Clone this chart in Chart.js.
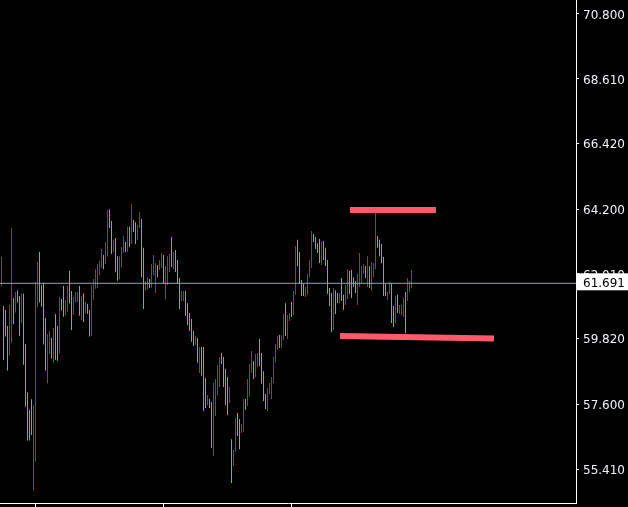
<!DOCTYPE html>
<html><head><meta charset="utf-8">
<script src="https://cdn.jsdelivr.net/npm/chart.js@4/dist/chart.umd.min.js"></script>
<style>html,body{margin:0;padding:0;background:#000;overflow:hidden}canvas{display:block}</style>
</head><body>
<canvas id="c" width="628" height="507"></canvas>
<script>
// bar highs (price)
const highs = [
62.59,60.92,60.79,60.25,60.96,63.56,61.19,61.40,61.46,61.26,
61.35,61.35,59.64,58.01,57.41,57.77,57.57,61.74,62.41,62.75,
61.63,61.71,60.52,59.98,60.08,59.84,60.18,60.65,60.25,61.23,
61.16,61.60,61.13,61.60,62.11,61.43,61.24,61.40,61.40,61.60,
61.26,61.35,61.06,61.00,60.79,61.63,61.84,62.17,62.34,62.45,
62.85,62.65,63.09,64.17,64.20,63.80,63.16,63.22,62.61,62.61,
62.92,63.29,63.09,63.60,63.60,64.37,63.83,63.76,63.66,64.10,
63.87,62.89,61.77,61.90,61.84,62.34,62.65,62.38,62.31,62.48,
62.72,62.65,62.28,62.61,62.68,63.26,62.75,62.82,62.48,61.87,
61.43,61.43,61.43,61.02,60.69,60.48,60.08,59.91,59.84,59.54,
59.54,59.54,58.49,57.91,57.78,57.68,58.32,58.45,58.93,59.20,
59.33,59.20,58.79,58.52,58.18,56.42,56.05,57.14,57.30,57.10,
56.93,57.78,57.78,58.45,58.96,59.40,59.06,59.30,59.33,59.81,
59.33,58.72,57.95,58.15,58.32,58.52,59.20,59.64,59.91,59.94,
59.94,60.65,61.02,60.62,60.69,61.06,61.43,62.95,63.16,62.75,
61.80,61.67,61.57,62.01,62.48,63.46,63.36,63.26,63.05,63.19,
63.09,63.12,62.89,62.48,61.53,61.36,61.53,61.46,61.36,61.36,
61.87,61.30,61.63,62.17,62.11,62.14,61.90,61.77,62.01,62.72,
62.28,62.34,62.28,62.61,62.28,62.41,62.38,64.07,63.29,63.16,
63.02,62.58,61.67,61.40,61.74,61.70,60.92,61.26,61.30,60.96,
60.96,61.19,61.40,61.87,61.77,62.14
];
// bar lows (price)
const lows = [
61.58,59.10,59.89,58.74,59.27,59.68,60.31,60.70,61.04,59.91,
60.36,58.94,57.52,56.37,56.37,56.56,54.68,55.66,60.88,61.04,
60.90,59.62,58.74,58.31,59.30,59.14,59.01,59.10,59.07,59.32,
60.77,60.56,60.61,60.73,61.01,60.11,60.62,61.04,61.07,60.59,
60.45,60.38,60.68,60.65,59.89,59.91,61.13,61.51,61.53,61.97,
62.21,62.17,62.34,62.59,63.56,62.68,62.75,62.07,61.78,61.84,
62.24,62.72,62.75,62.75,62.92,63.02,63.43,63.02,63.16,63.56,
61.90,60.82,61.44,61.49,61.53,61.55,61.96,61.36,61.90,62.14,
62.21,61.67,61.16,61.63,62.07,62.24,62.17,62.07,61.67,60.82,
61.09,61.09,60.59,60.28,60.08,59.71,59.57,59.60,59.00,58.66,
58.56,57.37,57.47,57.57,57.47,56.12,55.85,57.20,57.91,58.18,
58.96,58.18,57.57,57.24,57.64,54.94,55.51,55.99,56.53,56.09,
56.63,56.66,57.41,57.54,57.85,58.66,58.45,58.52,58.86,58.89,
58.29,57.71,57.44,57.37,57.95,57.78,58.32,59.00,59.44,59.50,
59.50,59.77,59.91,59.81,60.42,60.55,60.62,61.30,62.28,61.67,
61.26,61.26,61.23,61.30,61.90,62.21,63.09,62.85,62.72,62.38,
62.31,62.48,62.28,61.33,60.92,60.04,60.11,60.65,61.02,61.02,
61.09,60.79,60.96,61.16,61.33,61.19,61.57,61.36,60.96,61.57,
61.70,62.01,61.87,61.57,61.53,61.46,61.90,62.17,62.89,62.61,
62.38,61.26,61.26,61.13,61.33,60.35,60.21,60.35,60.69,60.65,
60.62,60.55,60.01,61.09,61.40,61.53
];
// 1 = bull bar (green), 0 = bear bar (red)
const ups = [
0,1,1,1,0,0,1,0,1,1,
0,1,1,1,1,1,0,0,0,1,
1,1,1,0,0,1,0,1,1,0,
1,1,0,0,1,1,0,0,0,1,
0,1,0,1,1,0,0,0,0,0,
0,1,0,0,1,1,0,1,1,0,
0,0,1,0,1,0,1,1,0,0,
1,1,0,0,1,0,0,0,1,0,
0,1,0,0,0,1,0,1,1,1,
0,0,1,1,1,1,1,0,1,0,
1,1,1,0,1,1,0,0,0,0,
1,1,1,1,0,1,0,0,1,1,
0,0,1,0,0,0,1,0,0,1,
1,1,1,0,0,0,0,0,0,1,
0,0,1,0,0,1,0,0,1,1,
1,1,0,0,0,0,1,1,1,1,
0,1,1,1,1,1,0,1,1,0,
1,1,0,0,1,1,1,1,0,0,
0,0,1,0,1,0,0,0,1,1,
1,1,1,0,0,1,1,0,1,0,
0,0,1,0,0,0
];
const yTicks = [70.8, 68.61, 66.42, 64.2, 62.01, 59.82, 57.6, 55.41];
const xTicks = [17, 81, 145];
const lastPrice = 61.691;
const topLine = [{x: 174.25, y: 64.17}, {x: 217.25, y: 64.17}];
const bottomLine = [{x: 169.25, y: 59.91}, {x: 246.25, y: 59.82}];
const X_MIN = -0.75, X_MAX = 287.25, Y_MIN = 54.26, Y_MAX = 71.2735;

const UP = '#1ef01e', DOWN = '#f01414', TREND = '#ff5a6a', PRICE = '#98a2b2', TXT = '#eef2f8';

Chart.defaults.font.family = 'DejaVu Sans';
Chart.defaults.font.size = 12;

const barData = highs.map((h, i) => ({x: i, y: [lows[i], h]}));
const barColors = ups.map(u => u ? UP : DOWN);

const priceLabel = {
  id: 'priceLabel',
  afterDraw(chart) {
    const ctx = chart.ctx, ca = chart.chartArea;
    const y = chart.scales.y.getPixelForValue(lastPrice);
    ctx.save();
    ctx.fillStyle = '#ffffff';
    ctx.fillRect(ca.right + 1, y - 10, chart.width - ca.right - 1, 17);
    ctx.fillStyle = '#000000';
    ctx.font = '12px "DejaVu Sans"';
    ctx.textBaseline = 'middle';
    ctx.textAlign = 'left';
    ctx.fillText(lastPrice.toFixed(3), ca.right + 7, y + 0.5);
    ctx.restore();
  }
};

new Chart(document.getElementById('c'), {
  type: 'bar',
  data: {
    datasets: [
      {type: 'line', data: topLine, borderColor: TREND, borderWidth: 6, borderCapStyle: 'butt', pointRadius: 0, order: 0},
      {type: 'line', data: bottomLine, borderColor: TREND, borderWidth: 6, borderCapStyle: 'butt', pointRadius: 0, order: 0},
      {type: 'line', data: [{x: X_MIN, y: lastPrice}, {x: X_MAX, y: lastPrice}], borderColor: PRICE, borderWidth: 1, pointRadius: 0, order: 1},
      {type: 'bar', data: barData, backgroundColor: barColors, borderWidth: 0, barThickness: 1, inflateAmount: 0, order: 2}
    ]
  },
  options: {
    responsive: false,
    devicePixelRatio: 1,
    animation: false,
    events: [],
    layout: {padding: 0},
    plugins: {legend: {display: false}, tooltip: {enabled: false}},
    scales: {
      x: {
        type: 'linear', min: X_MIN, max: X_MAX, position: 'bottom', offset: false,
        afterBuildTicks: s => { s.ticks = xTicks.map(v => ({value: v})); },
        afterFit: s => { s.height = 4; s.paddingLeft = 0; s.paddingRight = 0; },
        ticks: {display: false},
        grid: {offset: false, drawOnChartArea: false, drawTicks: true, tickLength: 4, tickColor: '#ffffff'},
        border: {display: true, color: '#ffffff', width: 1}
      },
      y: {
        type: 'linear', min: Y_MIN, max: Y_MAX, position: 'right', beginAtZero: false,
        afterBuildTicks: s => { s.ticks = yTicks.map(v => ({value: v})); },
        afterFit: s => { s.width = 52; s.paddingTop = 0; s.paddingBottom = 0; },
        ticks: {color: TXT, padding: 4, font: {size: 12, lineHeight: '3.5px'}, callback: v => ['', Number(v).toFixed(3)]},
        grid: {drawOnChartArea: false, drawTicks: true, tickLength: 3, tickColor: '#ffffff'},
        border: {display: true, color: '#ffffff', width: 1}
      }
    }
  },
  plugins: [priceLabel]
});
</script>
</body></html>
